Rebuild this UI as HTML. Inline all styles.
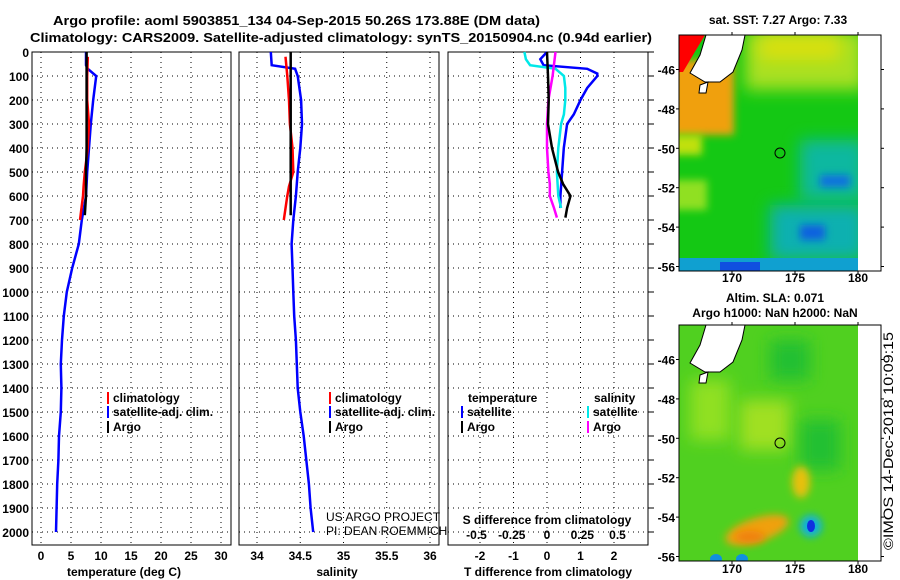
<!DOCTYPE html>
<html><head><meta charset="utf-8">
<style>
html,body{margin:0;padding:0;background:#fff;}
svg{display:block;font-family:"Liberation Sans",sans-serif;}
.t{font-weight:bold;font-size:13px;}
.tk{font-weight:bold;font-size:12px;}
.grid{stroke:#000;stroke-width:1;stroke-dasharray:1 4;}
</style></head>
<body>
<svg id="chart" width="900" height="580" viewBox="0 0 900 580">
<defs>
<filter id="bl" x="-100%" y="-100%" width="300%" height="300%"><feGaussianBlur stdDeviation="8"/></filter>
<filter id="bl2" x="-100%" y="-100%" width="300%" height="300%"><feGaussianBlur stdDeviation="4"/></filter>
<clipPath id="cm1"><rect x="679" y="35" width="179" height="236"/></clipPath>
<clipPath id="cm2"><rect x="679" y="325" width="179" height="236"/></clipPath>
</defs>
<text class="t" x="53" y="25" textLength="487" lengthAdjust="spacingAndGlyphs">Argo profile: aoml 5903851_134 04-Sep-2015 50.26S 173.88E (DM data)</text>
<text class="t" x="30" y="42" textLength="622" lengthAdjust="spacingAndGlyphs">Climatology: CARS2009. Satellite-adjusted climatology: synTS_20150904.nc (0.94d earlier)</text>
<g id="panels"></g>

<!-- top map -->
<g>
<text class="tk" x="778" y="24" text-anchor="middle">sat. SST: 7.27 Argo: 7.33</text>
<g clip-path="url(#cm1)">
<rect x="679" y="35" width="179" height="236" fill="#14c814"/>
<rect x="745" y="30" width="120" height="60" fill="#a8e020" filter="url(#bl)"/>
<rect x="760" y="35" width="80" height="25" fill="#d8e010" filter="url(#bl)"/>
<rect x="672" y="60" width="62" height="75" fill="#f0a010" filter="url(#bl2)"/>
<rect x="672" y="135" width="30" height="20" fill="#c0e010" filter="url(#bl2)"/>
<rect x="672" y="180" width="35" height="30" fill="#90e020" filter="url(#bl2)"/>
<rect x="800" y="140" width="65" height="60" fill="#10b8a0" filter="url(#bl)"/>
<rect x="770" y="205" width="95" height="55" fill="#10b0b0" filter="url(#bl)"/>
<rect x="800" y="225" width="25" height="15" fill="#1060e0" filter="url(#bl2)"/>
<rect x="679" y="258" width="179" height="13" fill="#10a0d0"/>
<rect x="720" y="262" width="40" height="9" fill="#1050e0"/>
<rect x="820" y="175" width="30" height="12" fill="#1070e0" filter="url(#bl2)"/>
<polygon points="679,35 705,35 690,60 683,72 679,72" fill="#ff0000"/>
<polygon points="706,35 745,35 742,50 733,72 720,82 705,82 690,73 700,55" fill="#fff" stroke="#000" stroke-width="1"/>
<polygon points="700,85 708,82 706,93 699,93" fill="#fff" stroke="#000" stroke-width="1"/>
<rect x="858" y="35" width="23" height="236" fill="#fff"/>
</g>
<rect x="679" y="35" width="202" height="236" fill="none" stroke="#000"/>
<circle cx="780" cy="153" r="5" fill="none" stroke="#000"/>
<g id="m1ticks"></g>
</g>

<!-- bottom map -->
<g>
<text class="tk" x="775" y="302" text-anchor="middle">Altim. SLA: 0.071</text>
<text class="tk" x="775" y="317" text-anchor="middle">Argo h1000: NaN h2000: NaN</text>
<g clip-path="url(#cm2)">
<rect x="679" y="325" width="179" height="236" fill="#50d020"/>
<rect x="690" y="380" width="40" height="60" fill="#90e020" filter="url(#bl)"/>
<rect x="740" y="400" width="50" height="50" fill="#a0e020" filter="url(#bl)"/>
<rect x="800" y="420" width="40" height="50" fill="#20c030" filter="url(#bl)"/>
<rect x="770" y="340" width="40" height="40" fill="#20c030" filter="url(#bl)"/>
<ellipse cx="801" cy="482" rx="9" ry="16" fill="#e8c010" filter="url(#bl2)"/>
<ellipse cx="757" cy="530" rx="33" ry="12" transform="rotate(-18 757 530)" fill="#f0a010" filter="url(#bl2)"/>
<ellipse cx="750" cy="537" rx="15" ry="6" fill="#f08010" filter="url(#bl2)"/>
<ellipse cx="811" cy="526" rx="11" ry="11" fill="#10b0e0" filter="url(#bl2)"/>
<ellipse cx="811" cy="526" rx="4" ry="6" fill="#1030e0"/>
<ellipse cx="716" cy="559" rx="6" ry="5" fill="#1090e0"/>
<ellipse cx="742" cy="559" rx="6" ry="5" fill="#1090e0"/>
<polygon points="706,325 745,325 742,340 733,362 720,372 705,372 690,363 700,345" fill="#fff" stroke="#000" stroke-width="1"/>
<polygon points="700,375 708,372 706,383 699,383" fill="#fff" stroke="#000" stroke-width="1"/>
<rect x="858" y="325" width="23" height="236" fill="#fff"/>
</g>
<rect x="679" y="325" width="202" height="236" fill="none" stroke="#000"/>
<circle cx="780" cy="443" r="5" fill="none" stroke="#000"/>
<g id="m2ticks"></g>
</g>
<text x="0" y="0" font-size="14" transform="translate(893,550) rotate(-90)" textLength="218" lengthAdjust="spacingAndGlyphs">©IMOS 14-Dec-2018 10:09:15</text>
</svg>
<script>
// depth levels (dbar)
const depthsSat = [0,55,70,100,200,300,400,500,600,700,800,900,1000,1100,1200,1300,1400,1500,1600,1700,1800,1900,2000];
const tempSat = [7.5,7.5,7.8,9.2,8.7,8.3,8.0,7.7,7.5,6.8,6.3,5.2,4.3,3.8,3.5,3.3,3.4,3.3,3.0,2.9,2.7,2.6,2.5];
const salSat = [34.16,34.17,34.44,34.47,34.51,34.52,34.50,34.47,34.45,34.42,34.40,34.41,34.42,34.43,34.45,34.46,34.47,34.50,34.54,34.57,34.60,34.62,34.65];
const depthsClim = [20,100,200,300,400,500,560,600,700];
const tempClim = [7.8,7.7,7.7,8.0,7.8,7.3,7.1,7.0,6.5];
const salClim = [34.33,34.35,34.37,34.38,34.41,34.42,34.37,34.35,34.31];
const depthsArgo = [0,100,200,300,400,500,600,680];
const tempArgo = [7.6,7.6,7.6,7.6,7.6,7.5,7.5,7.3];
const salArgo = [34.39,34.39,34.39,34.39,34.39,34.39,34.39,34.39];
const depthsDiff = [0,30,55,70,90,100,150,200,260,300,400,500,600,650];
const tDiffSat = [0,-0.2,-0.1,1.2,1.5,1.5,1.2,1.0,0.8,0.6,0.5,0.45,0.4,0.4];
const sDiffSat = [-0.16,-0.15,-0.12,0.06,0.10,0.12,0.13,0.13,0.12,0.10,0.08,0.07,0.08,0.10];
const depthsDiffArgo = [0,100,200,300,400,500,550,600,650,690];
const tDiffArgo = [0,0.03,0.05,0.03,0.15,0.33,0.48,0.7,0.6,0.55];
const sDiffArgo = [0.06,0.04,0.01,0,0,0.01,0.02,0.02,0.05,0.07];
const depthTicks = [0,100,200,300,400,500,600,700,800,900,1000,1100,1200,1300,1400,1500,1600,1700,1800,1900,2000];
const tempTicks = [0,5,10,15,20,25,30];
const salTicks = ['34','34.5','35','35.5','36'];
const tDiffTicks = [-2,-1,0,1,2];
const sDiffTicks = ['-0.5','-0.25','0','0.25','0.5'];

const NS='http://www.w3.org/2000/svg';
const g=document.getElementById('panels');
function mk(tag,attrs,parent){const e=document.createElementNS(NS,tag);for(const k in attrs)e.setAttribute(k,attrs[k]);(parent||g).appendChild(e);return e;}
const yD=d=>52+d*0.24;
const xT=v=>41+v*6;
const xS=v=>257+(v-34)*86.5;
const xTD=v=>547+v*33.5;
const xSD=v=>547+v*141;
const panels=[{l:32,r:231},{l:239,r:439},{l:448,r:648}];
const TOP=52,BOT=545;

function line(xs,ds,fx,color,name){
  const pts=xs.map((v,i)=>fx(v).toFixed(1)+','+yD(ds[i]).toFixed(1)).join(' ');
  const p=mk('polyline',{points:pts,fill:'none',stroke:color,'stroke-width':2.5});
  
  
}
panels.forEach((p,pi)=>{
  const f=mk('rect',{x:p.l,y:TOP,width:p.r-p.l,height:BOT-TOP,fill:'none',stroke:'#000'});
  
  
  depthTicks.forEach(d=>{
    if(d>0){const gl=mk('line',{x1:p.l,x2:p.r,y1:yD(d),y2:yD(d),class:'grid'});
    
    }
  });
});
depthTicks.forEach(d=>{
  const t=mk('text',{x:29,y:yD(d)+5,'text-anchor':'end',class:'tk'});
  t.textContent=d;
  
  
  const tk=mk('line',{x1:648,x2:654,y1:yD(d),y2:yD(d),stroke:'#000'});
  
  
});
function xaxis(ticks,fx,labelY){
  ticks.forEach(v=>{
    const x=fx(parseFloat(v));
    const gl=mk('line',{x1:x,x2:x,y1:TOP,y2:BOT,class:'grid'});
    
    
    const t=mk('text',{x:x,y:labelY,'text-anchor':'middle',class:'tk'});
    t.textContent=v;
    
    
  });
}
xaxis(tempTicks,xT,560);
xaxis(salTicks,xS,560);
xaxis(tDiffTicks,xTD,560);
sDiffTicks.forEach(v=>{
  const t=mk('text',{x:xSD(parseFloat(v)),y:539,'text-anchor':'middle',class:'tk'});
  t.textContent=v;
  
  
});
[['temperature (deg C)',124,'temperature-axis-title'],['salinity',337,'salinity-axis-title'],['T difference from climatology',548,'t-diff-axis-title']].forEach(a=>{
  const t=mk('text',{x:a[1],y:576,'text-anchor':'middle',class:'tk'});
  t.textContent=a[0];
  
  
});
const st=mk('text',{x:547,y:524,'text-anchor':'middle',class:'tk'});
st.textContent='S difference from climatology';



line(tempSat,depthsSat,xT,'#0000ff','temp-satellite-line');
line(tempClim,depthsClim,xT,'#ff0000','temp-climatology-line');
line(tempArgo,depthsArgo,xT,'#000','temp-argo-line');
line(salSat,depthsSat,xS,'#0000ff','sal-satellite-line');
line(salClim,depthsClim,xS,'#ff0000','sal-climatology-line');
line(salArgo,depthsArgo,xS,'#000','sal-argo-line');
line(tDiffSat,depthsDiff,xTD,'#0000ff','tdiff-satellite-line');
line(sDiffSat,depthsDiff,xSD,'#00e8e8','sdiff-satellite-line');
line(sDiffArgo,depthsDiffArgo,xSD,'#ff00ff','sdiff-argo-line');
line(tDiffArgo,depthsDiffArgo,xTD,'#000','tdiff-argo-line');

function leg(x,y,color,label){
  if(color){const b=mk('rect',{x:x,y:y-10,width:2,height:12,fill:color});
  
  }
  const t=mk('text',{x:x+6,y:y,class:'tk'});
  t.textContent=label;
  
  
}
[[107],[329]].forEach(([x])=>{
  leg(x,402,'#ff0000','climatology');
  leg(x,416,'#0000ff','satellite-adj. clim.');
  leg(x,431,'#000','Argo');
});
leg(462,402,null,'temperature');
leg(461,416,'#0000ff','satellite');
leg(461,431,'#000','Argo');
leg(588,402,null,'salinity');
leg(587,416,'#00e8e8','satellite');
leg(587,431,'#ff00ff','Argo');
const u1=mk('text',{x:326,y:521,'font-size':12});
u1.textContent='US ARGO PROJECT';


const u2=mk('text',{x:326,y:535,'font-size':12});
u2.textContent='PI: DEAN ROEMMICH';



const lonTicks=[170,175,180];
const latTicks=[-46,-48,-50,-52,-54,-56];
const xLon=v=>732+(v-170)*12.6;
[['m1ticks',35,271,282,69.5],['m2ticks',325,561,573,359.5]].forEach(([id,top,bot,ly,y46])=>{
  const mg=document.getElementById(id);
  lonTicks.forEach(v=>{
    mk('line',{x1:xLon(v),x2:xLon(v),y1:top-3,y2:top,stroke:'#000'},mg);
    mk('line',{x1:xLon(v),x2:xLon(v),y1:bot,y2:bot+3,stroke:'#000'},mg);
    const t=mk('text',{x:xLon(v),y:ly,'text-anchor':'middle',class:'tk'},mg);
    t.textContent=v;
    
    
  });
  latTicks.forEach(v=>{
    const y=y46+(-46-v)*19.7;
    mk('line',{x1:676,x2:679,y1:y,y2:y,stroke:'#000'},mg);
    mk('line',{x1:881,x2:884,y1:y,y2:y,stroke:'#000'},mg);
    const t=mk('text',{x:675,y:y+5,'text-anchor':'end',class:'tk'},mg);
    t.textContent=v;
    
    
  });
});
</script>
</body></html>
